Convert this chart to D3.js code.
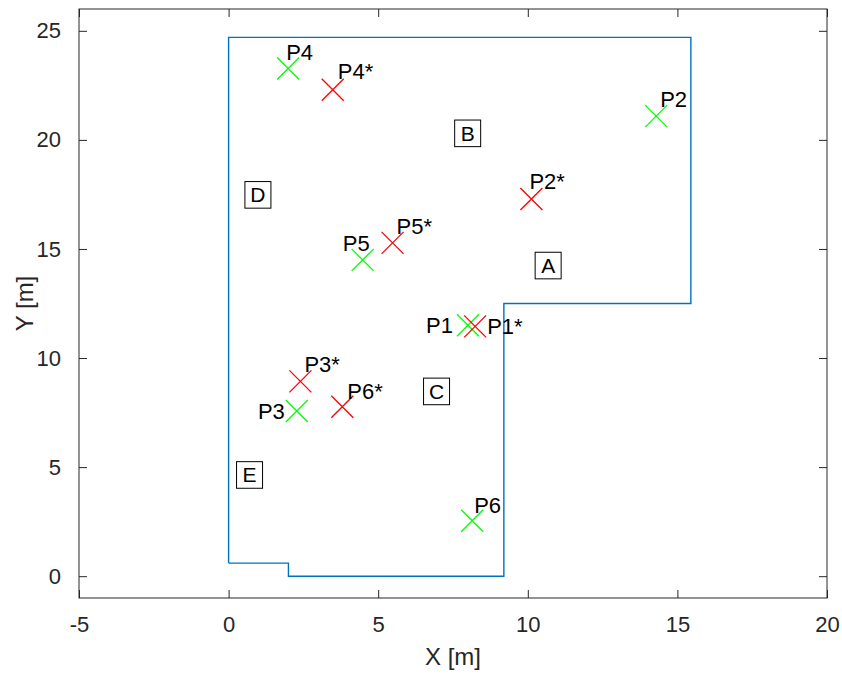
<!DOCTYPE html>
<html>
<head>
<meta charset="utf-8">
<script src="https://cdn.jsdelivr.net/npm/d3@7"></script>
<style>
  html, body { margin: 0; padding: 0; background: #fff; }
  svg { display: block; font-family: "Liberation Sans", Arial, Helvetica, sans-serif; }
</style>
</head>
<body>
<svg id="chart" width="842" height="675"></svg>
<script>
// ---- data ----
const boundaryX = [0, 0, 15.45, 15.45, 9.2, 9.2, 2, 2, 0];
const boundaryY = [0.6, 24.7, 24.7, 12.5, 12.5, 0, 0, 0.6, 0.6];

const truePointNames = ["P1", "P2", "P3", "P4", "P5", "P6"];
const truePointX = [8.0, 14.29, 2.28, 1.99, 4.48, 8.14];
const truePointY = [11.5, 21.09, 7.57, 23.27, 14.5, 2.54];

const estPointNames = ["P1*", "P2*", "P3*", "P4*", "P5*", "P6*"];
const estPointX = [8.24, 10.12, 2.4, 3.48, 5.48, 3.8];
const estPointY = [11.45, 17.29, 8.93, 22.3, 15.28, 7.77];

const zoneNames = ["A", "B", "C", "D", "E"];
const zoneX = [10.68, 7.99, 6.95, 0.98, 0.70];
const zoneY = [14.24, 20.3, 8.47, 17.48, 4.64];

const xTicks = [-5, 0, 5, 10, 15, 20];
const yTicks = [0, 5, 10, 15, 20, 25];
const xDomain = [-5, 20];
const yDomain = [-1, 26];

// label placement (pixel offsets from marker; anchor)
const trueLabelPlace = [
  {dx: -15, dy: 8, anchor: "end"},   // P1
  {dx: 4, dy: -9, anchor: "start"},  // P2
  {dx: -12, dy: 8, anchor: "end"},   // P3
  {dx: -2, dy: -9, anchor: "start"}, // P4
  {dx: 7, dy: -9, anchor: "end"},    // P5
  {dx: 2, dy: -8, anchor: "start"}   // P6
];
const estLabelPlace = [
  {dx: 12, dy: 8, anchor: "start"},  // P1*
  {dx: -2, dy: -10, anchor: "start"}, // P2*
  {dx: 4, dy: -9, anchor: "start"},  // P3*
  {dx: 5, dy: -11, anchor: "start"}, // P4*
  {dx: 4, dy: -9, anchor: "start"},  // P5*
  {dx: 5, dy: -8, anchor: "start"}   // P6*
];

// ---- layout ----
const svg = d3.select("#chart");
const mL = 79, mT = 9, mR = 827, mB = 598;
const axisColor = "#262626";
const fontSize = 22;

const x = d3.scaleLinear().domain(xDomain).range([mL, mR]);
const y = d3.scaleLinear().domain(yDomain).range([mB, mT]);

// axes
const tickLen = 8;
const fmt = d => String(d);
const gxB = svg.append("g").attr("transform", `translate(0,${mB})`)
  .call(d3.axisBottom(x).tickValues(xTicks).tickSizeInner(-tickLen).tickSizeOuter(0).tickPadding(18).tickFormat(fmt));
const gxT = svg.append("g").attr("transform", `translate(0,${mT})`)
  .call(d3.axisTop(x).tickValues(xTicks).tickSizeInner(-tickLen).tickSizeOuter(0).tickFormat(""));
const gyL = svg.append("g").attr("transform", `translate(${mL},0)`)
  .call(d3.axisLeft(y).tickValues(yTicks).tickSizeInner(-tickLen).tickSizeOuter(0).tickPadding(18).tickFormat(fmt));
const gyR = svg.append("g").attr("transform", `translate(${mR},0)`)
  .call(d3.axisRight(y).tickValues(yTicks).tickSizeInner(-tickLen).tickSizeOuter(0).tickFormat(""));

[gxB, gxT, gyL, gyR].forEach(g => {
  g.select(".domain").remove();
  g.selectAll(".tick line").attr("stroke", axisColor).attr("stroke-width", 1);
  g.selectAll(".tick text").attr("fill", axisColor).attr("font-size", fontSize)
    .attr("font-family", "Liberation Sans, Arial, sans-serif");
});
gxB.selectAll(".tick text").attr("dy", "0.71em");

// box
svg.append("rect").attr("x", mL).attr("y", mT)
  .attr("width", mR - mL).attr("height", mB - mT)
  .attr("fill", "none").attr("stroke", axisColor).attr("stroke-width", 1);

// axis labels
svg.append("text").attr("x", (mL + mR) / 2).attr("y", 665)
  .attr("text-anchor", "middle").attr("font-size", 24).attr("fill", axisColor)
  .text("X [m]");
svg.append("text")
  .attr("transform", `translate(33,${(mT + mB) / 2}) rotate(-90)`)
  .attr("text-anchor", "middle").attr("font-size", 24).attr("fill", axisColor)
  .text("Y [m]");

// boundary polygon
const line = d3.line().x(d => x(d[0])).y(d => y(d[1]));
svg.append("path")
  .datum(boundaryX.map((v, i) => [v, boundaryY[i]]))
  .attr("d", line).attr("fill", "none").attr("stroke", "#0072BD").attr("stroke-width", 1.4);

// zone labels with boxes
const zones = svg.append("g");
zoneNames.forEach((n, i) => {
  const cx = x(zoneX[i]), cy = y(zoneY[i]);
  zones.append("rect").attr("x", cx - 13).attr("y", cy - 13.3)
    .attr("width", 26).attr("height", 26.6)
    .attr("fill", "none").attr("stroke", "#000").attr("stroke-width", 1);
  zones.append("text").attr("x", cx).attr("y", cy + 7.5)
    .attr("text-anchor", "middle").attr("font-size", 21).attr("fill", "#000").text(n);
});

// markers
const h = 11;
function drawX(g, px, py, color) {
  g.append("path")
    .attr("d", `M${px - h},${py - h}L${px + h},${py + h}M${px - h},${py + h}L${px + h},${py - h}`)
    .attr("stroke", color).attr("stroke-width", 1.3).attr("fill", "none");
}
const marks = svg.append("g");
truePointNames.forEach((n, i) => drawX(marks, x(truePointX[i]), y(truePointY[i]), "#00FF00"));
estPointNames.forEach((n, i) => drawX(marks, x(estPointX[i]), y(estPointY[i]), "#FF0000"));

// labels
const labels = svg.append("g").attr("font-size", fontSize).attr("fill", "#000");
truePointNames.forEach((n, i) => {
  const p = trueLabelPlace[i];
  labels.append("text").attr("x", x(truePointX[i]) + p.dx).attr("y", y(truePointY[i]) + p.dy)
    .attr("text-anchor", p.anchor).text(n);
});
estPointNames.forEach((n, i) => {
  const p = estLabelPlace[i];
  labels.append("text").attr("x", x(estPointX[i]) + p.dx).attr("y", y(estPointY[i]) + p.dy)
    .attr("text-anchor", p.anchor).text(n);
});
</script>
</body>
</html>
